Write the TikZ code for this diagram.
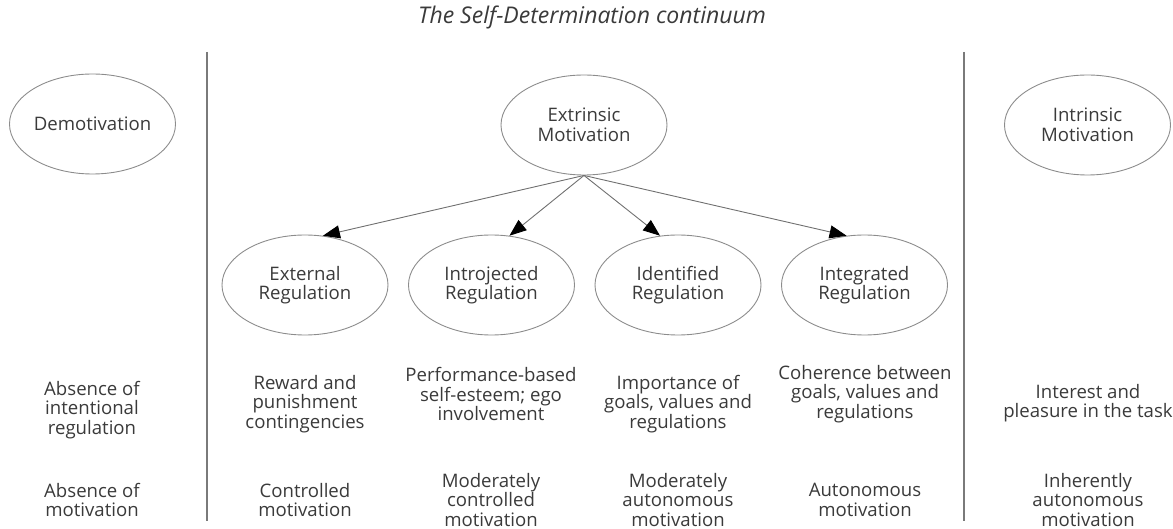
\documentclass[tikz,border=0pt]{standalone}
\usepackage{fontspec}
\setmainfont{Open Sans}
\usetikzlibrary{shapes.geometric,arrows.meta}
\definecolor{ink}{HTML}{3A3A3A}
\definecolor{rim}{HTML}{8C8C8C}
\definecolor{rule}{HTML}{7A7A7A}
\begin{document}
\begin{tikzpicture}[x=1pt,y=-1pt,
  every node/.style={text=ink,font=\fontsize{18.6}{19.5}\selectfont},
  bubble/.style={ellipse,draw=rim,line width=0.9pt,minimum width=166pt,
    minimum height=100pt,inner sep=0pt,align=center},
  cell/.style={align=center,inner sep=0pt},
  link/.style={draw=rim!80!black,line width=0.9pt,
    -{Triangle[length=17pt,width=13pt,fill=black,color=black]}},
  divider/.style={draw=rule,line width=2pt}]
\useasboundingbox (0,0) rectangle (1173,529);

% title
\node (title) at (592,17) {\fontsize{23}{25}\selectfont\itshape The Self-Determination continuum};

% column dividers
\coordinate (dl1) at (207,52);
\coordinate (dl2) at (207,521);
\coordinate (dr1) at (964,52);
\coordinate (dr2) at (964,521);
\draw[divider] (dl1) -- (dl2);
\draw[divider] (dr1) -- (dr2);

% top row of ellipses
\node[bubble] (demo) at (92.5,124) {Demotivation};
\node[bubble] (extr) at (584,125) {Extrinsic\\Motivation};
\node[bubble] (intr) at (1087.5,125) {Intrinsic\\Motivation};

% regulation types
\node[bubble] (ext)   at (305,285)   {External\\Regulation};
\node[bubble] (intro) at (491.5,285) {Introjected\\Regulation};
\node[bubble] (iden)  at (678,285)   {Identified\\Regulation};
\node[bubble] (integ) at (864.5,285) {Integrated\\Regulation};

% branches from extrinsic motivation
\draw[link] (extr.south) -- (ext.70);
\draw[link] (extr.south) -- (intro.70);
\draw[link] (extr.south) -- (iden.110);
\draw[link] (extr.south) -- (integ.110);

% regulatory processes
\node[cell] (abs1) at (92,410)   {Absence of\\intentional\\regulation};
\node[cell] (rew)  at (305,404)  {Reward and\\punishment\\contingencies};
\node[cell] (perf) at (491,394)  {Performance-based\\self-esteem; ego\\involvement};
\node[cell] (imp)  at (678,404)  {Importance of\\goals, values and\\regulations};
\node[cell] (coh)  at (865,394)  {Coherence between\\goals, values and\\regulations};
\node[cell] (int)  at (1088,403) {Interest and\\pleasure in the task};

% type of motivation
\node[cell] (abs2) at (92,500)   {Absence of\\motivation};
\node[cell] (ctrl) at (305,500)  {Controlled\\motivation};
\node[cell] (modc) at (491,500)  {Moderately\\controlled\\motivation};
\node[cell] (moda) at (678,500)  {Moderately\\autonomous\\motivation};
\node[cell] (auto) at (865,500)  {Autonomous\\motivation};
\node[cell] (inh)  at (1088,500) {Inherently\\autonomous\\motivation};
\end{tikzpicture}
\end{document}
